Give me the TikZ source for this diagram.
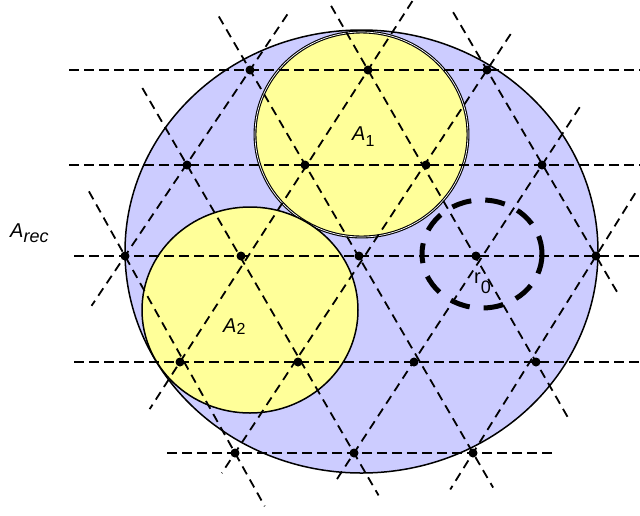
\documentclass[tikz,border=0pt]{standalone}
\usepackage{fontspec}
\setmainfont{Liberation Sans}
\usetikzlibrary{calc}
\definecolor{lav}{RGB}{204,204,255}
\definecolor{yel}{RGB}{255,255,153}
\tikzset{
  hline/.style={line width=2.8pt, dash pattern=on 10pt off 5pt},
  dline/.style={line width=1.8pt, dash pattern=on 9pt off 6pt},
  dot/.style={circle, fill=black, inner sep=0pt, minimum size=9pt},
  rcirc/.style={line width=5pt, dash pattern=on 20pt off 14pt},
  dbl/.style={draw=black, line width=1.1pt, double=white, double distance=0.7pt},
  sgl/.style={draw=black, line width=1.5pt},
  lbl/.style={font=\fontsize{20}{24}\selectfont, inner sep=0pt, anchor=base west}
}
\begin{document}
\begin{tikzpicture}[x=1pt,y=-1pt]
\useasboundingbox (0,0) rectangle (640,515);
% circles
\filldraw[fill=lav, sgl] (361.5,251.5) ellipse [x radius=236.5, y radius=221.5];
\filldraw[fill=yel, dbl] (361.5,134.5) ellipse [x radius=106.5, y radius=102.5];
\filldraw[fill=yel, sgl] (250,310) ellipse [x radius=108, y radius=103];
% lattice points
\foreach \n/\x/\y in {p20/250/70, p40/368/70, p60/487/70,
  p11/187/165, p31/305/165, p51/426/165, p71/542/165,
  p02/125/256, p22/241/256, p42/359/256, p62/476/256, p82/596/256,
  p13/180/362, p33/298/362, p53/414/362, p73/536/362,
  p24/235/453, p44/354/453, p64/473/453}
  \coordinate (\n) at (\x,\y);
% horizontal line ends
\coordinate (h0a) at (69,70);  \coordinate (h0b) at (640,70);
\coordinate (h1a) at (69,165); \coordinate (h1b) at (640,165);
\coordinate (h2a) at (74,256); \coordinate (h2b) at (640,256);
\coordinate (h3a) at (74,362); \coordinate (h3b) at (640,362);
\coordinate (h4a) at (167,453); \coordinate (h4b) at (553,453);
\foreach \a/\b in {h0a/h0b, h1a/h1b, h2a/h2b, h3a/h3b, h4a/h4b}
  \draw[hline] (\a) -- (\b);
% diagonal lines
\foreach \a/\b/\ea/\eb in {p02/p24/74/61, p11/p44/89/49, p20/p64/62/40,
  p40/p73/74/66, p60/p82/67/46,
  p20/p02/67/60, p40/p13/82/56, p60/p24/43/24, p71/p44/69/34, p82/p64/74/43}
  \draw[dline] ($(\a)!-\ea pt!(\b)$) -- ($(\b)!-\eb pt!(\a)$);
% dots
\foreach \n in {p20,p40,p60,p11,p31,p51,p71,p02,p22,p42,p62,p82,p13,p33,p53,p73,p24,p44,p64}
  \node[dot] at (\n) {};
% r0 circle
\draw[rcirc] (482,254) ellipse [x radius=60, y radius=54];
% labels
\node[lbl] (arec) at (10,237) {\itshape A\raisebox{-5pt}{\fontsize{18}{18}\selectfont rec}};
\node[lbl] (a1) at (352,140) {\itshape A\raisebox{-6pt}{\upshape\fontsize{16}{16}\selectfont 1}};
\node[lbl] (a2) at (223,332) {\itshape A\raisebox{-2pt}{\upshape\fontsize{16}{16}\selectfont 2}};
\node[lbl] (r0) at (474,283) {r\raisebox{-10pt}{\fontsize{18}{18}\selectfont 0}};
\end{tikzpicture}
\end{document}
